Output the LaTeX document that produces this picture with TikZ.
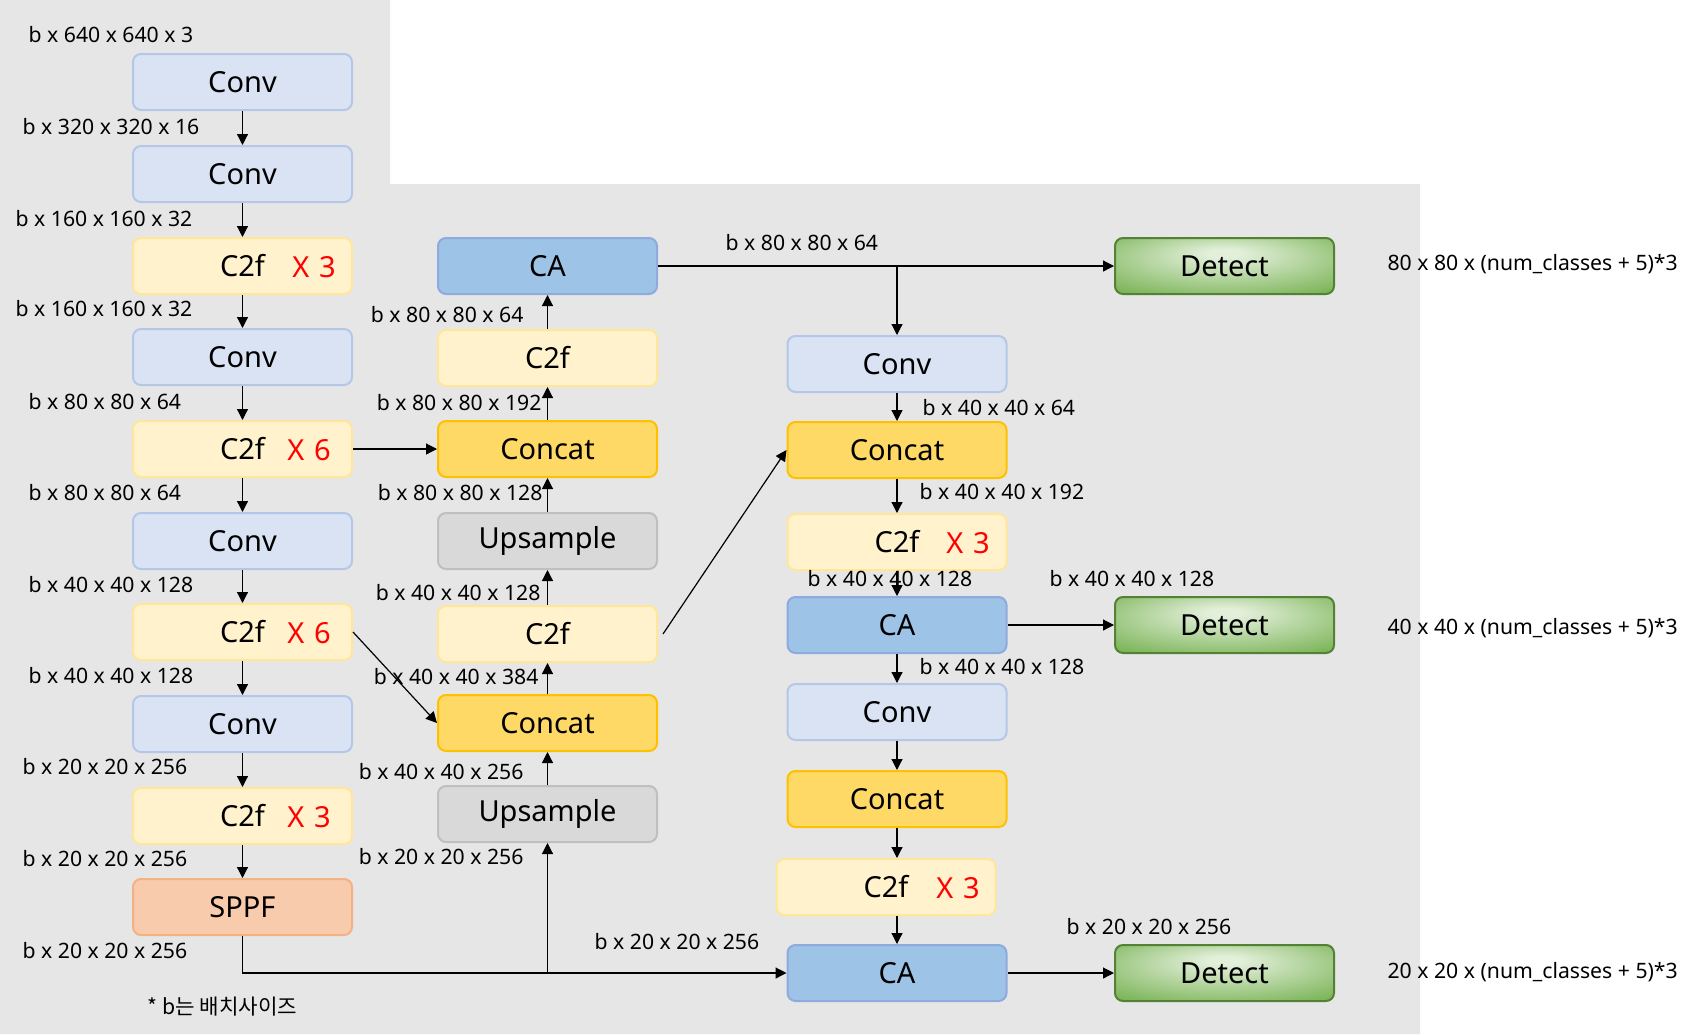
\documentclass[tikz,border=0pt]{standalone}
\usepackage{fontspec}
\setmainfont{Noto Sans}
\newfontfamily\krfont{Noto Sans CJK KR}
\usetikzlibrary{arrows.meta}

\definecolor{bggray}{HTML}{E7E6E6}
\definecolor{convfill}{HTML}{DAE3F3}
\definecolor{convline}{HTML}{B4C7E7}
\definecolor{cfill}{HTML}{FFF2CC}
\definecolor{cline}{HTML}{FFE699}
\definecolor{catfill}{HTML}{FFD966}
\definecolor{catline}{HTML}{FFC000}
\definecolor{upfill}{HTML}{D9D9D9}
\definecolor{upline}{HTML}{BFBFBF}
\definecolor{sppffill}{HTML}{F8CBAD}
\definecolor{sppfline}{HTML}{F4B183}
\definecolor{cafill}{HTML}{9DC3E6}
\definecolor{caline}{HTML}{8FAADC}
\definecolor{detin}{HTML}{E2EFD9}
\definecolor{detout}{HTML}{6AAA42}
\definecolor{detline}{HTML}{548235}
\pgfdeclareradialshading{detectglow}{\pgfpoint{0bp}{12bp}}{color(0bp)=(detin); color(4bp)=(detin); color(42bp)=(detout); color(60bp)=(detout)}

\begin{document}
\begin{tikzpicture}[x=0.5pt,y=-0.5pt,
  box/.style={rounded corners=4pt,line width=1pt,minimum width=109.5pt,minimum height=28pt,inner sep=0pt,font=\fontsize{14.5}{16}\selectfont},
  conv/.style={box,fill=convfill,draw=convline},
  c2f/.style={box,fill=cfill,draw=cline},
  concat/.style={box,fill=catfill,draw=catline},
  upsample/.style={box,fill=upfill,draw=upline},
  sppf/.style={box,fill=sppffill,draw=sppfline},
  ca/.style={box,fill=cafill,draw=caline},
  detect/.style={box,draw=detline,shade,shading=detectglow},
  rep/.style={text=red,inner sep=0pt,font=\fontsize{14.5}{16}\selectfont},
  dim/.style={inner sep=0pt,font=\fontsize{10.6}{12}\selectfont},
  >={Triangle[length=5.5pt,width=5.5pt]}, line width=0.6pt]
\useasboundingbox (0,0) rectangle (1703,1034);
\fill[bggray] (0,0) -- (390,0) -- (390,184) -- (1420,184) -- (1420,1034) -- (0,1034) -- cycle;

% backbone
\node(b0) at (242.5,82)[conv]       {Conv};
\node(b1) at (242.5,174)[conv]      {Conv};
\node(b2) at (242.5,266)[c2f]       {C2f};
\node(b3) at (242.5,357)[conv]      {Conv};
\node(b4) at (242.5,449)[c2f]       {C2f};
\node(b5) at (242.5,541)[conv]      {Conv};
\node(b6) at (242.5,632)[c2f]       {C2f};
\node(b7) at (242.5,724)[conv]      {Conv};
\node(b8) at (242.5,816)[c2f]       {C2f};
\node(b9) at (242.5,907)[sppf]      {SPPF};
\node(x2) at (314,267)[rep] {X\,\,3};
\node(x4) at (309,450)[rep] {X\,\,6};
\node(x6) at (309,633)[rep] {X\,\,6};
\node(x8) at (309,817)[rep] {X\,\,3};

% neck
\node(n0) at (547.5,266)[ca]        {CA};
\node(n1) at (547.5,358)[c2f]       {C2f};
\node(n2) at (547.5,449)[concat]    {Concat};
\node(n3) at (547.5,541)[upsample]  {Upsample};
\node(n4) at (547.5,634)[c2f]       {C2f};
\node(n5) at (547.5,723)[concat]    {Concat};
\node(n6) at (547.5,814)[upsample]  {Upsample};

% head
\node(h0) at (897,364)[conv]        {Conv};
\node(h1) at (897,450)[concat]      {Concat};
\node(h2) at (897,542)[c2f]         {C2f};
\node(h3) at (897,625)[ca]          {CA};
\node(h4) at (897,712)[conv]        {Conv};
\node(h5) at (897,799)[concat]      {Concat};
\node(h6) at (886,887)[c2f]         {C2f};
\node(h7) at (897,973)[ca]          {CA};
\node(x12) at (968,543)[rep] {X\,\,3};
\node(x16) at (958,888)[rep] {X\,\,3};

\node(d0) at (1224.5,266)[detect]   {Detect};
\node(d1) at (1224.5,625)[detect]   {Detect};
\node(d2) at (1224.5,973)[detect]   {Detect};

% sizes
\node(l0) at (28,35)[dim,anchor=west]   {b x 640 x 640 x 3};
\node(l1) at (22,127)[dim,anchor=west]  {b x 320 x 320 x 16};
\node(l2) at (15,219)[dim,anchor=west]  {b x 160 x 160 x 32};
\node(l3) at (15,309)[dim,anchor=west]  {b x 160 x 160 x 32};
\node(l4) at (28,402)[dim,anchor=west]  {b x 80 x 80 x 64};
\node(l5) at (28,493)[dim,anchor=west]  {b x 80 x 80 x 64};
\node(l6) at (28,585)[dim,anchor=west]  {b x 40 x 40 x 128};
\node(l7) at (28,676)[dim,anchor=west]  {b x 40 x 40 x 128};
\node(l8) at (22,767)[dim,anchor=west]  {b x 20 x 20 x 256};
\node(l9) at (22,859)[dim,anchor=west]  {b x 20 x 20 x 256};
\node(l10) at (22,951)[dim,anchor=west] {b x 20 x 20 x 256};
\node(note) at (147,1007)[dim,anchor=west] {\krfont * b는 배치사이즈};

\node(m0) at (524,315)[dim,anchor=east] {b x 80 x 80 x 64};
\node(m1) at (542,403)[dim,anchor=east] {b x 80 x 80 x 192};
\node(m2) at (543,493)[dim,anchor=east] {b x 80 x 80 x 128};
\node(m3) at (541,593)[dim,anchor=east] {b x 40 x 40 x 128};
\node(m4) at (539,677)[dim,anchor=east] {b x 40 x 40 x 384};
\node(m5) at (524,772)[dim,anchor=east] {b x 40 x 40 x 256};
\node(m6) at (524,857)[dim,anchor=east] {b x 20 x 20 x 256};
\node(m7) at (594,942)[dim,anchor=west] {b x 20 x 20 x 256};

\node(r0) at (725,243)[dim,anchor=west]  {b x 80 x 80 x 64};
\node(r1) at (922,408)[dim,anchor=west]  {b x 40 x 40 x 64};
\node(r2) at (919,492)[dim,anchor=west]  {b x 40 x 40 x 192};
\node(r3) at (807,579)[dim,anchor=west]  {b x 40 x 40 x 128};
\node(r4) at (1049,579)[dim,anchor=west] {b x 40 x 40 x 128};
\node(r5) at (919,667)[dim,anchor=west]  {b x 40 x 40 x 128};
\node(r6) at (1066,927)[dim,anchor=west] {b x 20 x 20 x 256};

\node(o0) at (1387,264)[dim,anchor=west] {80 x 80 x (num\_classes + 5)*3};
\node(o1) at (1387,628)[dim,anchor=west] {40 x 40 x (num\_classes + 5)*3};
\node(o2) at (1387,972)[dim,anchor=west] {20 x 20 x (num\_classes + 5)*3};

\path [->]
  (b0)      edge    (b1)
  (b1)      edge    (b2)
  (b2)      edge    (b3)
  (b3)      edge    (b4)
  (b4)      edge    (b5)
  (b5)      edge    (b6)
  (b6)      edge    (b7)
  (b7)      edge    (b8)
  (b8)      edge    (b9)

  (n6)      edge    (n5)
  (n5)      edge    (n4)
  (n4)      edge    (n3)
  (n3)      edge    (n2)
  (n2)      edge    (n1)
  (n1)      edge    (n0)
  (b4)      edge    (n2)
  (b6.east) edge    (n5.west)
  ([xshift=2.5pt]n4.east) edge (h1.west)

  (n0)      edge    (d0)
  (n0.east -| h0) edge (h0)
  (h0)      edge    (h1)
  (h1)      edge    (h2)
  (h2)      edge    (h3)
  (h3)      edge    (h4)
  (h4)      edge    (h5)
  (h5)      edge    (h6.north -| h5)
  (h6.south -| h7) edge (h7)
  (h3)      edge    (d1)
  (h7)      edge    (d2)
  (n6 |- h7) edge   (n6);
\draw[->] (b9) |- (h7);

\end{tikzpicture}
\end{document}
